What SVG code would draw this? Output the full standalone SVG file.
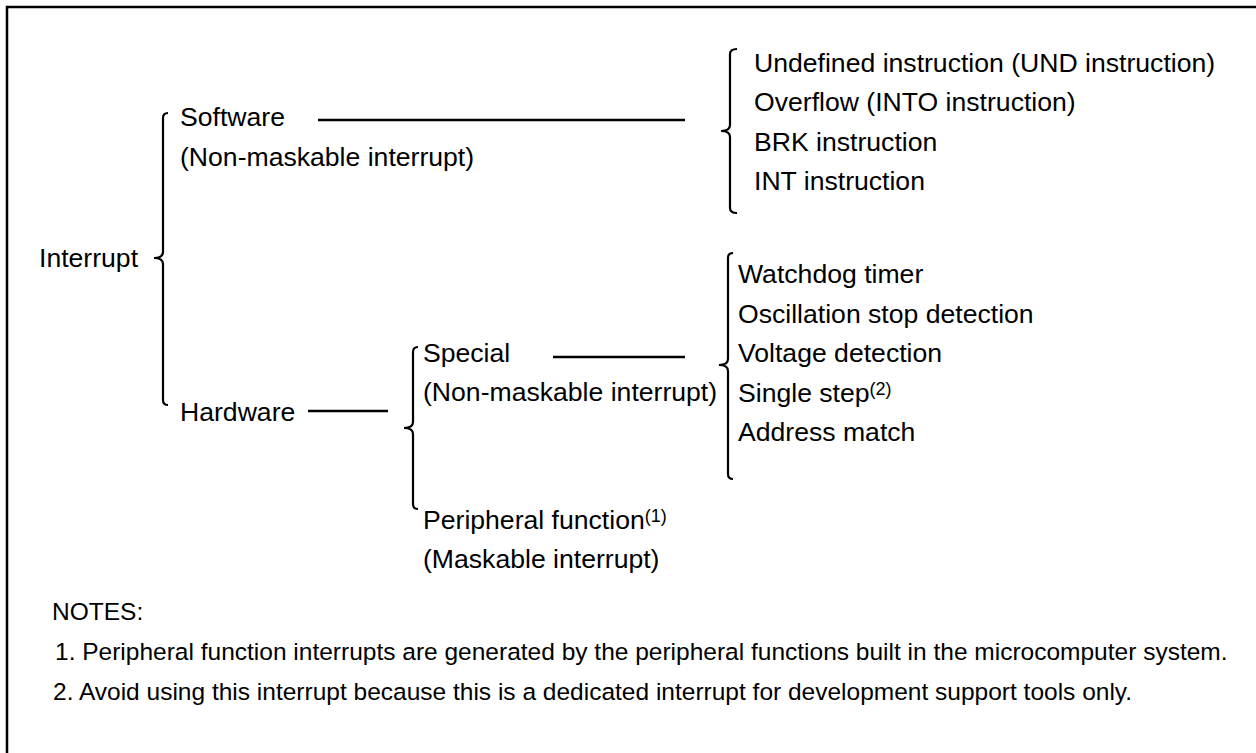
<svg xmlns="http://www.w3.org/2000/svg" width="1256" height="753" viewBox="0 0 1256 753">
<style>
text{font-family:"Liberation Sans",Arial,sans-serif;font-size:26.6px;fill:#000}
.note{font-size:24.5px}
.sup{font-size:18px}
.brace{fill:none;stroke:#000;stroke-width:2.2}
.conn{stroke:#000;stroke-width:2.5}
</style>
<rect width="1256" height="753" fill="#fff"/>
<path d="M7,753 L7,7 L1256,7" fill="none" stroke="#000" stroke-width="2.5"/>
<g id="connectors">
<line class="conn" x1="318" y1="120" x2="685" y2="120"/>
<line class="conn" x1="308" y1="411" x2="388" y2="411"/>
<line class="conn" x1="553" y1="357" x2="685" y2="357"/>
</g>
<g id="braces">
<path class="brace" d="M168,113 Q163,113 163,118 L163,252 Q163,258 154,258 Q163,258 163,264 L163,400 Q163,405 168,405"/>
<path class="brace" d="M737,49 Q730,49 730,54 L730,125 Q730,131 721,131 Q730,131 730,137 L730,208 Q730,213 737,213"/>
<path class="brace" d="M418,347 Q413,347 413,352 L413,422 Q413,428 404,428 Q413,428 413,434 L413,504 Q413,509 418,509"/>
<path class="brace" d="M733,253 Q728,253 728,258 L728,359 Q728,365 719,365 Q728,365 728,371 L728,474 Q728,479 733,479"/>
</g>
<g id="interrupt"><text x="39" y="267">Interrupt</text></g>
<g id="software"><text x="180" y="126">Software</text><text x="180" y="166">(Non-maskable interrupt)</text></g>
<g id="software-list">
<text x="754" y="71.5">Undefined instruction (UND instruction)</text>
<text x="754" y="111">Overflow (INTO instruction)</text>
<text x="754" y="150.5">BRK instruction</text>
<text x="754" y="190">INT instruction</text>
</g>
<g id="hardware"><text x="180" y="421">Hardware</text></g>
<g id="special"><text x="423" y="362">Special</text><text x="423" y="401">(Non-maskable interrupt)</text></g>
<g id="peripheral"><text x="423" y="529">Peripheral function<tspan class="sup" dy="-7">(1)</tspan></text><text x="423" y="568">(Maskable interrupt)</text></g>
<g id="special-list">
<text x="738" y="283">Watchdog timer</text>
<text x="738" y="322.5">Oscillation stop detection</text>
<text x="738" y="362">Voltage detection</text>
<text x="738" y="401.5">Single step<tspan class="sup" dy="-7">(2)</tspan></text>
<text x="738" y="441">Address match</text>
</g>
<g id="notes">
<text class="note" x="52" y="620">NOTES:</text>
<text class="note" x="55" y="660">1. Peripheral function interrupts are generated by the peripheral functions built in the microcomputer system.</text>
<text class="note" x="53" y="700">2. Avoid using this interrupt because this is a dedicated interrupt for development support tools only.</text>
</g>
</svg>
